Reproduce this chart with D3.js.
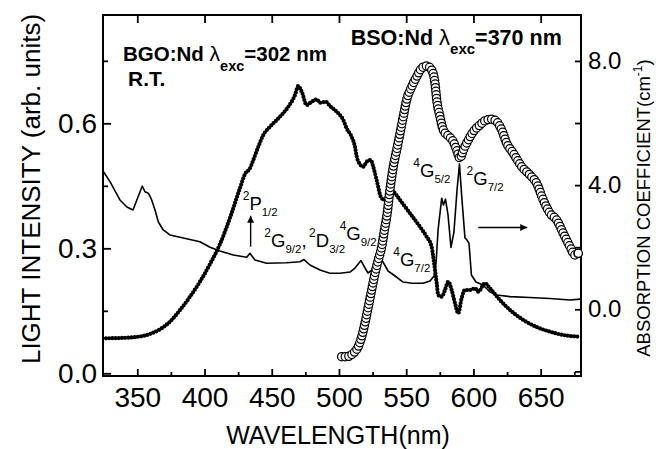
<!DOCTYPE html>
<html><head><meta charset="utf-8">
<script src="https://cdn.jsdelivr.net/npm/d3@7"></script>
<style>body{margin:0;background:#fff}svg{display:block}</style>
</head><body>
<svg id="c" width="656" height="449"></svg>
<script>
// Thin solid line (left axis)
const thinWl = [324.5,329.7,337.1,342.3,346.8,353.7,355.7,358.2,359.4,360.7,363.2,365.6,369.3,374.3,384.2,396.6,404.1,411.5,421.4,431.4,433.8,437.5,446.2,461.1,471.0,474.0,478.4,485.9,493.3,500.8,508.2,511.9,516.4,519.4,521.6,524.6,529.1,532.8,536.5,541.7,547.7,554.4,562.5,567.7,570.7,572.2,573.7,576.4,577.7,579.2,581.1,583.3,585.5,587.8,589.6,591.5,593.7,595.2,596.7,598.5,601.9,607.1,612.3,617.5,627.2,642.0,656.9,671.8,679.5];
const thinVal = [0.4855,0.460,0.416,0.399,0.392,0.4496,0.4358,0.432,0.4255,0.416,0.392,0.3638,0.344,0.332,0.3247,0.3158,0.3024,0.2935,0.2839,0.2784,0.288,0.272,0.264,0.2654,0.2678,0.273,0.26,0.248,0.24,0.24,0.243,0.2527,0.2707,0.2527,0.2407,0.248,0.2887,0.267,0.2455,0.2335,0.219,0.216,0.216,0.2215,0.2335,0.2647,0.344,0.420,0.404,0.418,0.380,0.302,0.339,0.44,0.502,0.416,0.325,0.32,0.312,0.236,0.219,0.212,0.195,0.188,0.184,0.182,0.1795,0.176,0.178];
// BGO:Nd emission, filled dots (left axis)
const bgoWl = [326.7,337.1,347.0,359.4,366.9,374.3,381.8,389.2,396.6,404.1,411.5,418.9,426.4,430.1,433.8,436.3,440.0,443.7,448.7,456.1,462.3,467.3,469.7,472.3,476.0,479.7,483.4,485.9,490.3,493.3,498.3,503.2,505.7,509.4,511.9,513.2,515.1,518.1,520.6,523.6,525.5,528.0,531.7,534.2,537.9,541.6,545.4,552.8,560.2,565.2,568.9,570.1,571.4,572.7,573.8,576.4,578.8,581.3,583.8,586.3,588.7,591.2,593.7,597.4,601.1,603.6,608.6,612.3,619.7,627.2,637.1,647.0,656.9,666.8,679.2];
const bgoVal = [0.084,0.0847,0.0864,0.0943,0.1056,0.1238,0.1519,0.1838,0.2198,0.2623,0.310,0.3727,0.4447,0.4783,0.492,0.512,0.5438,0.5719,0.5918,0.6158,0.6398,0.6679,0.6895,0.6758,0.6439,0.6518,0.6575,0.6494,0.6518,0.6415,0.6278,0.6079,0.588,0.5678,0.5438,0.5198,0.504,0.4958,0.5078,0.512,0.4958,0.4639,0.42,0.416,0.444,0.432,0.416,0.384,0.3518,0.3278,0.3038,0.2798,0.2479,0.216,0.1879,0.1838,0.1999,0.2198,0.1999,0.168,0.144,0.18,0.1999,0.1999,0.204,0.1958,0.216,0.204,0.1759,0.1519,0.1279,0.1111,0.0998,0.0919,0.0878];
// BSO:Nd, open circles (right axis, absorption coefficient)
const bsoWl = [502.0,505.7,510.6,514.3,516.9,519.3,521.8,524.3,526.8,529.2,531.8,533.8,535.7,537.9,540.4,542.9,545.4,547.8,550.3,554.1,557.8,561.5,565.2,568.9,571.4,572.7,575.1,577.6,581.3,585.0,587.5,590.0,592.5,596.2,599.9,604.9,609.8,613.6,617.3,621.0,624.7,629.6,635.9,642.0,647.0,651.9,656.9,661.9,666.8,671.8,675.5,678.0];
const bsoVal = [-1.527,-1.527,-1.418,-1.205,-0.883,-0.451,0.084,0.622,1.16,1.588,2.017,2.555,3.038,3.843,4.594,5.132,5.67,6.205,6.743,7.171,7.494,7.764,7.838,7.71,7.281,6.743,6.205,5.776,5.583,5.4,5.132,4.865,5.132,5.454,5.722,5.938,6.099,6.121,6.044,5.776,5.348,5.026,4.594,4.327,4.059,3.521,3.093,2.877,2.448,2.017,1.749,1.804];

const xMajor = [350,400,450,500,550,600,650];
const xMinor = [375,425,475,525,575,625,675];
const yLeftMajor = [0.0,0.3,0.6];
const yLeftMinor = [0.15,0.45,0.75];
const yRightMajor = [0,4,8];
const yRightMinor = [-2,2,6];

const FONT = "'Liberation Sans', Arial, Helvetica, sans-serif";
const svg = d3.select('#c');
const L = 103, R = 581, T = 15, B = 376;
const x = d3.scaleLinear().domain([324.5,680]).range([L,R]);
const yL = d3.scaleLinear().domain([-0.0065,0.86]).range([B,T]);
const yR = d3.scaleLinear().domain([-2.149,9.48]).range([B,T]);

function styleAxis(g, fs) {
  g.select('.domain').remove();
  g.selectAll('.tick line').attr('stroke','#000').attr('stroke-width',1.8);
  g.selectAll('.tick text').attr('font-family',FONT).attr('font-size',fs).attr('fill','#000');
}
// bottom
svg.append('g').attr('transform',`translate(0,${B})`)
  .call(d3.axisBottom(x).tickValues(xMajor).tickSize(-7).tickPadding(11).tickFormat(d3.format('d')))
  .call(g=>styleAxis(g,28));
svg.append('g').attr('transform',`translate(0,${B})`)
  .call(d3.axisBottom(x).tickValues(xMinor).tickSize(-4).tickFormat(''))
  .call(g=>styleAxis(g,10));
// top
svg.append('g').attr('transform',`translate(0,${T})`)
  .call(d3.axisTop(x).tickValues(xMajor).tickSize(-8).tickFormat(''))
  .call(g=>styleAxis(g,10));
// left
svg.append('g').attr('transform',`translate(${L},0)`)
  .call(d3.axisLeft(yL).tickValues(yLeftMajor).tickSize(-8).tickPadding(6).tickFormat(d3.format('.1f')))
  .call(g=>styleAxis(g,28));
svg.append('g').attr('transform',`translate(${L},0)`)
  .call(d3.axisLeft(yL).tickValues(yLeftMinor).tickSize(-5).tickFormat(''))
  .call(g=>styleAxis(g,10));
// right
svg.append('g').attr('transform',`translate(${R},0)`)
  .call(d3.axisRight(yR).tickValues(yRightMajor).tickSize(-6).tickPadding(7).tickFormat(d3.format('.1f')))
  .call(g=>styleAxis(g,24));
svg.append('g').attr('transform',`translate(${R},0)`)
  .call(d3.axisRight(yR).tickValues(yRightMinor).tickSize(-6).tickFormat(''))
  .call(g=>styleAxis(g,10));

// frame
svg.append('rect').attr('x',L).attr('y',T).attr('width',R-L).attr('height',B-T)
  .attr('fill','none').attr('stroke','#000').attr('stroke-width',2);

const plot = svg.append('g');
// thin line
const thinData = thinWl.map((w,i)=>[w,thinVal[i]]);
plot.append('path').attr('d', d3.line().x(d=>x(d[0])).y(d=>yL(d[1]))(thinData))
  .attr('fill','none').attr('stroke','#000').attr('stroke-width',1.6).attr('stroke-linejoin','round');

// BGO dotted
const bgoData = bgoWl.map((w,i)=>[w,bgoVal[i]]);
plot.append('path').attr('d', d3.line().curve(d3.curveMonotoneX).x(d=>x(d[0])).y(d=>yL(d[1]))(bgoData))
  .attr('fill','none').attr('stroke','#000').attr('stroke-width',4.2)
  .attr('stroke-linecap','round').attr('stroke-dasharray','0,3.2');

// BSO open circles placed along the data curve
const bsoData = bsoWl.map((w,i)=>[w,bsoVal[i]]);
const guide = plot.append('path').attr('d', d3.line().curve(d3.curveMonotoneX).x(d=>x(d[0])).y(d=>yR(d[1]))(bsoData))
  .attr('fill','none').attr('stroke','none');
const len = guide.node().getTotalLength();
const marks = d3.range(0, len, 3.6).concat([len]).map(l=>guide.node().getPointAtLength(l));
plot.selectAll('circle.bso').data(marks).join('circle').attr('class','bso')
  .attr('cx',p=>p.x).attr('cy',p=>p.y).attr('r',4.1)
  .attr('fill','#fff').attr('stroke','#000').attr('stroke-width',1.25);

// rich text helper
function rich(px, py, parts, opts={}) {
  const t = svg.append('text').attr('x',px).attr('y',py).attr('font-family',FONT).attr('fill','#000');
  if (opts.transform) t.attr('transform',opts.transform);
  if (opts.anchor) t.attr('text-anchor',opts.anchor);
  let cur = 0;
  parts.forEach(p=>{
    const off = p.o || 0;
    t.append('tspan').attr('dy', off-cur).attr('font-size',p.s).attr('font-weight',p.w||'normal')
      .text(p.t);
    cur = off;
  });
  return t;
}
// titles inside plot
rich(x(339.4), yL(0.75), [
  {t:'BGO:Nd ',s:20.5,w:'bold'},{t:'λ',s:21},{t:'exc',s:14.5,w:'bold',o:10},{t:'=302 nm',s:20.5,w:'bold'}]);
rich(x(343.1), yL(0.69), [{t:'R.T.',s:21,w:'bold'}]);
rich(x(508.7), yL(0.788), [
  {t:'BSO:Nd ',s:21.5,w:'bold'},{t:'λ',s:22},{t:'exc',s:15,w:'bold',o:9},{t:'=370 nm',s:21.5,w:'bold'}]);

// level labels
const sup = t=>({t,s:12,o:-10}), sub = t=>({t,s:11.5,o:6}), nm = t=>({t,s:18.5});
rich(x(428.4), yL(0.392), [sup('2'),nm('P'),sub('1/2')]);
rich(x(444.5), yL(0.304), [sup('2'),nm('G'),sub('9/2'),nm(','),{t:' ',s:9},sup('2'),nm('D'),sub('3/2')]);
rich(x(500.5), yL(0.32), [sup('4'),nm('G'),sub('9/2')]);
rich(x(540.4), yL(0.2575), [sup('4'),nm('G'),sub('7/2')]);
rich(x(555.3), yL(0.472), [sup('4'),nm('G'),sub('5/2')]);
rich(x(594.9), yL(0.452), [sup('2'),nm('G'),sub('7/2')]);

// arrows
svg.append('defs').append('marker').attr('id','ah').attr('viewBox','0 0 10 10')
  .attr('refX',10).attr('refY',5).attr('markerWidth',9).attr('markerHeight',7)
  .attr('markerUnits','userSpaceOnUse').attr('orient','auto')
  .append('path').attr('d','M0,0 L10,5 L0,10 z').attr('fill','#000');
svg.append('line').attr('x1',x(434.3)).attr('x2',x(434.3)).attr('y1',yL(0.304)).attr('y2',yL(0.378))
  .attr('stroke','#000').attr('stroke-width',1.4).attr('marker-end','url(#ah)');
svg.append('line').attr('x1',x(603.6)).attr('x2',x(640)).attr('y1',yL(0.35)).attr('y2',yL(0.35))
  .attr('stroke','#000').attr('stroke-width',1.4).attr('marker-end','url(#ah)');

// axis titles
svg.append('text').attr('transform','translate(40,189) rotate(-90)').attr('text-anchor','middle')
  .attr('font-family',FONT).attr('font-size',26).text('LIGHT INTENSITY (arb. units)');
svg.append('text').attr('x',338).attr('y',444).attr('text-anchor','middle')
  .attr('font-family',FONT).attr('font-size',25).text('WAVELENGTH(nm)');
rich(0,0,[{t:'ABSORPTION COEFFICIENT(cm',s:18.5},{t:'-1',s:12,o:-8},{t:')',s:18.5}],
  {transform:'translate(650,208) rotate(-90)',anchor:'middle'});
</script>
</body></html>
